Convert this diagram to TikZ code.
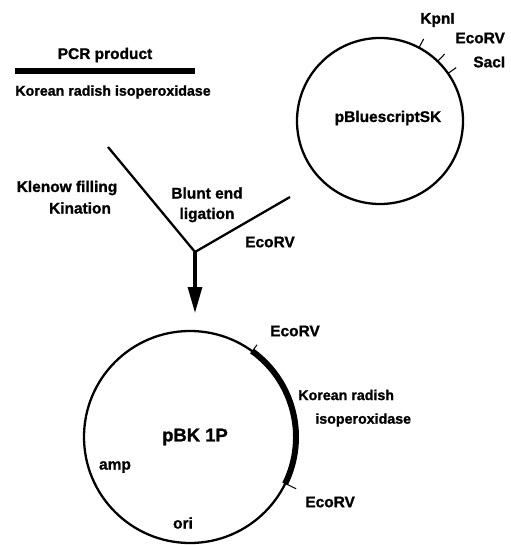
\documentclass[tikz,border=0pt]{standalone}
\usepackage{fontspec}
\setmainfont{Liberation Sans}[BoldFeatures={FakeBold=1.2}]
\usepackage{tikz}
\usetikzlibrary{arrows.meta,positioning,calc}

\begin{document}
\begin{tikzpicture}[
  x=0.02cm, y=0.02cm,
  font=\bfseries\fontsize{8.8}{10}\selectfont,
  >={Triangle[length=5.2mm, width=2.8mm]},
  plasmid/.style={line width=1.3pt},
  insert/.style={line width=3.4pt},
  site/.style={line width=0.6pt},
  lbl/.style={inner sep=0pt},
  genelbl/.style={lbl, anchor=west, font=\bfseries\fontsize{8.1}{10}\selectfont},
]
  \useasboundingbox (0,0) rectangle (511,545);

  % PCR product
  \node[lbl] (pcr) at (105,490) {PCR product};
  \coordinate (barL) at (15,474);
  \coordinate (barR) at (195,474);
  \draw[insert] (barL) -- (barR);
  \node[genelbl] (gene) at (15,453) {Korean radish isoperoxidase};

  % vector
  \def\rv{83}
  \coordinate (vec) at (380,424);
  \draw[plasmid] (vec) circle[radius=\rv];
  \node[lbl] (vecname) at (388,427) {pBluescriptSK};
  \foreach \a/\nm in {62/kpn, 46/eco, 35/sac}{
    \draw[site] ($(vec)+(\a:\rv)$) -- ($(vec)+(\a:\rv+10)$);
  }
  \node[lbl, anchor=west] (kpn) at (420,525) {KpnI};
  \node[lbl, anchor=west] (eco) at (455,507) {EcoRV};
  \node[lbl, anchor=west] (sac) at (473,483) {SacI};

  % ligation
  \coordinate (vL) at (108,398);
  \coordinate (vR) at (290,348);
  \coordinate (vtx) at (195,293);
  \coordinate (arr) at (195,232);
  \draw[plasmid] (vL) -- (vtx) -- (vR);
  \draw[->, line width=1.8pt] (vtx) -- (arr);
  \node[lbl] (klenow) at (67,357) {Klenow filling};
  \node[lbl] (kin) at (80,337) {Kination};
  \node[lbl] (blunt) at (207,352) {Blunt end};
  \node[lbl] (lig) at (207,330) {ligation};
  \node[lbl] (ecoV) at (270,303) {EcoRV};

  % recombinant plasmid
  \def\rp{106}
  \coordinate (pbk) at (190,108);
  \draw[plasmid] (pbk) circle[radius=\rp];
  \draw[insert] ($(pbk)+(54:\rp)$) arc[start angle=54, end angle=-26, radius=\rp];
  \draw[site] ($(pbk)+(54:\rp-3)$) -- ($(pbk)+(54:\rp+8)$);
  \draw[site] ($(pbk)+(-26:\rp-3)$) -- ($(pbk)+(-26:\rp+12)$);
  \node[lbl] (ecoT) at (295,214) {EcoRV};
  \node[genelbl] (kr) at (298,150) {Korean radish};
  \node[genelbl] (iso) at (315,125) {isoperoxidase};
  \node[lbl, anchor=west] (ecoB) at (305,43) {EcoRV};
  \node[lbl, font=\bfseries\fontsize{10.5}{12}\selectfont] (pname) at (195,108) {pBK 1P};
  \node[lbl] (amp) at (115,78) {amp};
  \node[lbl] (ori) at (183,22) {ori};
\end{tikzpicture}
\end{document}
